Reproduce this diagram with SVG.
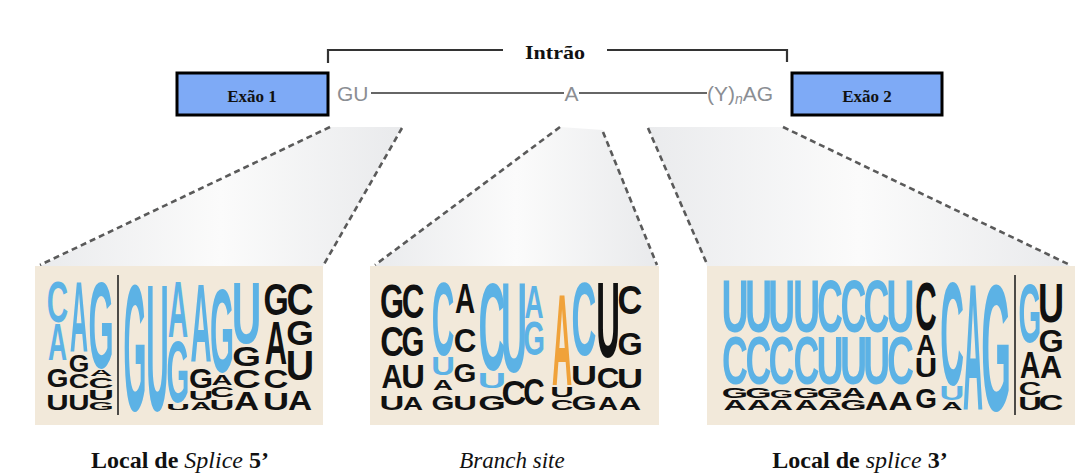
<svg xmlns="http://www.w3.org/2000/svg" width="1092" height="475" viewBox="0 0 1092 475">
<style>
.L{font-family:"Liberation Sans",Arial,sans-serif;font-weight:bold;font-size:100px;text-anchor:middle}
.b{fill:#5cb2e5}.k{fill:#111}.o{fill:#f0a23a}
.pan{fill:#f2e9da}
.dash{stroke:#5a5a5a;stroke-width:2.6;stroke-dasharray:6 4;fill:none}
.ser{font-family:"Liberation Serif","Times New Roman",serif;fill:#111}
.seq{font-family:"Liberation Sans",Arial,sans-serif;fill:#8b8e93;font-size:21px}
.ln{stroke:#333;stroke-width:1.6;fill:none}
.br{stroke:#333;stroke-width:2.2;fill:none}
.vl{stroke:#222;stroke-width:1.6}
</style>
<defs>
<linearGradient id="sh" x1="0" y1="0" x2="1" y2="0">
<stop offset="0" stop-color="#eaebed"/><stop offset=".5" stop-color="#fbfbfb"/><stop offset="1" stop-color="#e9eaec"/>
</linearGradient>
</defs>
<rect width="1092" height="475" fill="#fff"/>

<g id="connectors">
<polygon points="330,127 402,127 323,266 40,266" fill="url(#sh)"/>
<polygon points="560,127 603,130 657,266 375,266" fill="url(#sh)"/>
<polygon points="648,127 783,127 1070,266 707,266" fill="url(#sh)"/>
<line class="dash" x1="330" y1="127" x2="40" y2="265"/>
<line class="dash" x1="402" y1="128" x2="323" y2="266"/>
<line class="dash" x1="560" y1="127" x2="375" y2="265"/>
<line class="dash" x1="603" y1="132" x2="657" y2="265"/>
<line class="dash" x1="648" y1="128" x2="707" y2="264"/>
<line class="dash" x1="783" y1="127" x2="1070" y2="265"/>
</g>

<g id="intron">
<path class="br" d="M328,63 V50 H503"/>
<path class="br" d="M607,50 H787 V62"/>
<text class="ser" x="525" y="59" font-size="19" font-weight="bold" textLength="60" lengthAdjust="spacingAndGlyphs">Intrão</text>
<text class="seq" x="337" y="101">GU</text>
<line class="ln" x1="371" y1="93" x2="564" y2="93"/>
<text class="seq" x="564.5" y="101">A</text>
<line class="ln" x1="579" y1="93" x2="707" y2="93"/>
<text class="seq" x="707" y="101">(Y)<tspan font-style="italic" font-size="14" dy="3">n</tspan><tspan dy="-3">AG</tspan></text>
</g>

<g id="exon1">
<rect x="177" y="73" width="151" height="42" fill="#7eaaf6" stroke="#000" stroke-width="3"/>
<text class="ser" x="252" y="102" font-size="17" font-weight="bold" text-anchor="middle">Exão 1</text>
</g>
<g id="exon2">
<rect x="792" y="73" width="150" height="42" fill="#7eaaf6" stroke="#000" stroke-width="3"/>
<text class="ser" x="867" y="102" font-size="17" font-weight="bold" text-anchor="middle">Exão 2</text>
</g>

<g id="logo-5ss">
<rect class="pan" x="35" y="266" width="288" height="159"/>
<text class="L b" transform="translate(57.5,322) scale(.297,.583)">C</text>
<text class="L b" transform="translate(57.5,360) scale(.264,.514)">A</text>
<text class="L k" transform="translate(57.5,387) scale(.279,.264)">G</text>
<text class="L k" transform="translate(57.5,410) scale(.311,.222)">U</text>
<text class="L b" transform="translate(79,352) scale(.25,1)">A</text>
<text class="L k" transform="translate(79,372) scale(.265,.236)">G</text>
<text class="L k" transform="translate(79,388) scale(.281,.194)">C</text>
<text class="L k" transform="translate(79,410) scale(.295,.222)">U</text>
<text class="L b" transform="translate(101,368) scale(.324,1.222)">G</text>
<text class="L k" transform="translate(101,376) scale(.306,.097)">A</text>
<text class="L k" transform="translate(101,388) scale(.344,.153)">C</text>
<text class="L k" transform="translate(101,400) scale(.361,.139)">U</text>
<text class="L k" transform="translate(101,410) scale(.324,.111)">G</text>
<line class="vl" x1="118" y1="275" x2="118" y2="415"/>
<text class="L b" transform="translate(135,410) scale(.294,1.806)">G</text>
<text class="L b" transform="translate(157.5,410) scale(.311,1.806)">U</text>
<text class="L b" transform="translate(178,337) scale(.278,.792)">A</text>
<text class="L b" transform="translate(178,402) scale(.294,.875)">G</text>
<text class="L k" transform="translate(178,410) scale(.328,.097)">U</text>
<text class="L b" transform="translate(201,362) scale(.292,1.111)">A</text>
<text class="L k" transform="translate(201,388) scale(.309,.278)">G</text>
<text class="L k" transform="translate(201,400) scale(.344,.125)">U</text>
<text class="L k" transform="translate(201,410) scale(.292,.111)">A</text>
<text class="L b" transform="translate(222,372) scale(.309,1.181)">G</text>
<text class="L k" transform="translate(222,385) scale(.292,.139)">A</text>
<text class="L k" transform="translate(222,397) scale(.328,.139)">C</text>
<text class="L k" transform="translate(222,410) scale(.344,.153)">U</text>
<text class="L b" transform="translate(246.5,343) scale(.41,.875)">U</text>
<text class="L k" transform="translate(246.5,366) scale(.368,.278)">G</text>
<text class="L k" transform="translate(246.5,388) scale(.391,.25)">C</text>
<text class="L k" transform="translate(246.5,410) scale(.347,.25)">A</text>
<text class="L k" transform="translate(276,315) scale(.324,.444)">G</text>
<text class="L k" transform="translate(276,364) scale(.306,.611)">A</text>
<text class="L k" transform="translate(276,388) scale(.344,.25)">C</text>
<text class="L k" transform="translate(276,410) scale(.361,.236)">U</text>
<text class="L k" transform="translate(300,315) scale(.375,.444)">C</text>
<text class="L k" transform="translate(300,345) scale(.353,.347)">G</text>
<text class="L k" transform="translate(300,380) scale(.393,.417)">U</text>
<text class="L k" transform="translate(300,410) scale(.333,.278)">A</text>
</g>

<g id="logo-branch">
<rect class="pan" x="370" y="266" width="289" height="159"/>
<text class="L k" transform="translate(392,318) scale(.309,.486)">G</text>
<text class="L k" transform="translate(392,356) scale(.328,.417)">C</text>
<text class="L k" transform="translate(392,388) scale(.292,.333)">A</text>
<text class="L k" transform="translate(392,410) scale(.344,.208)">U</text>
<text class="L k" transform="translate(413,318) scale(.313,.486)">C</text>
<text class="L k" transform="translate(413,356) scale(.294,.417)">G</text>
<text class="L k" transform="translate(413,388) scale(.328,.333)">U</text>
<text class="L k" transform="translate(413,410) scale(.278,.181)">A</text>
<text class="L b" transform="translate(443,355) scale(.313,1.042)">C</text>
<text class="L b" transform="translate(443,375) scale(.328,.264)">U</text>
<text class="L k" transform="translate(443,390) scale(.278,.139)">A</text>
<text class="L k" transform="translate(443,410) scale(.294,.194)">G</text>
<text class="L k" transform="translate(465,313) scale(.278,.417)">A</text>
<text class="L k" transform="translate(465,352) scale(.313,.333)">C</text>
<text class="L k" transform="translate(465,382) scale(.294,.25)">G</text>
<text class="L k" transform="translate(465,410) scale(.328,.208)">U</text>
<text class="L b" transform="translate(492,370) scale(.375,1.25)">C</text>
<text class="L b" transform="translate(492,388) scale(.393,.222)">U</text>
<text class="L k" transform="translate(492,410) scale(.353,.208)">G</text>
<text class="L b" transform="translate(514,372) scale(.361,1.278)">U</text>
<text class="L k" transform="translate(514,405) scale(.344,.347)">C</text>
<text class="L b" transform="translate(534,318) scale(.264,.458)">A</text>
<text class="L b" transform="translate(534,355) scale(.279,.472)">G</text>
<text class="L k" transform="translate(534,405) scale(.297,.375)">C</text>
<text class="L o" transform="translate(562,385) scale(.278,1.292)">A</text>
<text class="L k" transform="translate(562,397) scale(.328,.139)">U</text>
<text class="L k" transform="translate(562,410) scale(.313,.153)">C</text>
<text class="L b" transform="translate(584,355) scale(.344,1.042)">C</text>
<text class="L k" transform="translate(584,385) scale(.361,.278)">U</text>
<text class="L k" transform="translate(584,410) scale(.324,.208)">G</text>
<text class="L k" transform="translate(608,357) scale(.328,1.069)">U</text>
<text class="L k" transform="translate(608,388) scale(.313,.292)">C</text>
<text class="L k" transform="translate(608,410) scale(.278,.181)">A</text>
<text class="L k" transform="translate(630,314) scale(.344,.403)">C</text>
<text class="L k" transform="translate(630,355) scale(.324,.306)">G</text>
<text class="L k" transform="translate(630,388) scale(.361,.278)">U</text>
<text class="L k" transform="translate(630,410) scale(.306,.181)">A</text>
</g>

<g id="logo-3ss">
<rect class="pan" x="707" y="266" width="368" height="159"/>
<text class="L b" transform="translate(735,332) scale(.377,.75)">U</text>
<text class="L b" transform="translate(735,384) scale(.359,.681)">C</text>
<text class="L k" transform="translate(735,398) scale(.338,.153)">G</text>
<text class="L k" transform="translate(735,410) scale(.319,.153)">A</text>
<text class="L b" transform="translate(758.5,332) scale(.377,.75)">U</text>
<text class="L b" transform="translate(758.5,384) scale(.359,.681)">C</text>
<text class="L k" transform="translate(758.5,398) scale(.338,.153)">G</text>
<text class="L k" transform="translate(758.5,410) scale(.319,.153)">A</text>
<text class="L b" transform="translate(781.5,332) scale(.377,.75)">U</text>
<text class="L b" transform="translate(781.5,384) scale(.359,.681)">C</text>
<text class="L k" transform="translate(781.5,398) scale(.3,.11)">G</text>
<text class="L k" transform="translate(781.5,410) scale(.319,.153)">A</text>
<text class="L b" transform="translate(806.5,332) scale(.377,.75)">U</text>
<text class="L b" transform="translate(806.5,384) scale(.359,.681)">C</text>
<text class="L k" transform="translate(806.5,398) scale(.338,.153)">G</text>
<text class="L k" transform="translate(806.5,410) scale(.319,.153)">A</text>
<text class="L b" transform="translate(830,332) scale(.359,.75)">C</text>
<text class="L b" transform="translate(830,384) scale(.377,.681)">U</text>
<text class="L k" transform="translate(830,398) scale(.338,.153)">G</text>
<text class="L k" transform="translate(830,410) scale(.319,.153)">A</text>
<text class="L b" transform="translate(853.5,332) scale(.359,.75)">C</text>
<text class="L b" transform="translate(853.5,384) scale(.377,.681)">U</text>
<text class="L k" transform="translate(853.5,398) scale(.319,.153)">A</text>
<text class="L k" transform="translate(853.5,410) scale(.338,.153)">G</text>
<text class="L b" transform="translate(876.5,332) scale(.359,.75)">C</text>
<text class="L b" transform="translate(876.5,384) scale(.377,.681)">U</text>
<text class="L k" transform="translate(876.5,410) scale(.319,.25)">A</text>
<text class="L b" transform="translate(900.5,332) scale(.393,.75)">U</text>
<text class="L b" transform="translate(900.5,384) scale(.375,.681)">C</text>
<text class="L k" transform="translate(900.5,410) scale(.333,.25)">A</text>
<text class="L k" transform="translate(926,330) scale(.297,.694)">C</text>
<text class="L k" transform="translate(926,355) scale(.264,.292)">A</text>
<text class="L k" transform="translate(926,377) scale(.311,.278)">U</text>
<text class="L k" transform="translate(926,408) scale(.279,.278)">G</text>
<text class="L b" transform="translate(952,385) scale(.328,1.458)">C</text>
<text class="L b" transform="translate(952,400) scale(.344,.194)">U</text>
<text class="L k" transform="translate(952,410) scale(.292,.111)">A</text>
<text class="L b" transform="translate(973,410) scale(.278,1.806)">A</text>
<text class="L b" transform="translate(996,410) scale(.382,1.806)">G</text>
<line class="vl" x1="1015" y1="275" x2="1015" y2="415"/>
<text class="L b" transform="translate(1030,342) scale(.294,.833)">G</text>
<text class="L k" transform="translate(1030,378) scale(.278,.361)">A</text>
<text class="L k" transform="translate(1030,395) scale(.313,.181)">C</text>
<text class="L k" transform="translate(1030,410) scale(.328,.181)">U</text>
<text class="L k" transform="translate(1051,322) scale(.361,.556)">U</text>
<text class="L k" transform="translate(1051,352) scale(.324,.306)">G</text>
<text class="L k" transform="translate(1051,378) scale(.306,.319)">A</text>
<text class="L k" transform="translate(1051,410) scale(.344,.222)">C</text>
</g>

<g id="labels">
<text class="ser" x="180" y="468" font-size="24" text-anchor="middle"><tspan font-weight="bold">Local de </tspan><tspan font-style="italic">Splice</tspan><tspan font-weight="bold"> 5’</tspan></text>
<text class="ser" x="512" y="468" font-size="23" text-anchor="middle" font-style="italic">Branch site</text>
<text class="ser" x="860" y="468" font-size="24" text-anchor="middle"><tspan font-weight="bold">Local de </tspan><tspan font-style="italic">splice</tspan><tspan font-weight="bold"> 3’</tspan></text>
</g>
</svg>
